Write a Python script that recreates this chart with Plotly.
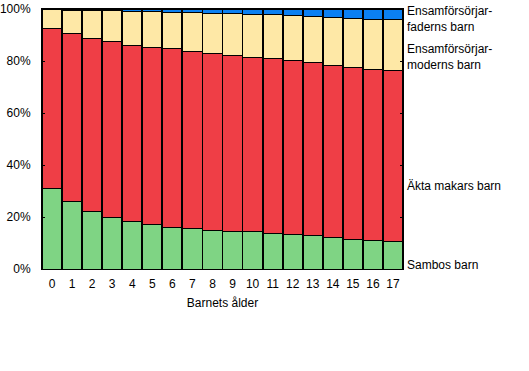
import plotly.graph_objects as go

ages = [str(i) for i in range(18)]

sambos = [31.0, 26.0, 22.1, 20.0, 18.4, 17.3, 16.1, 15.7, 14.9, 14.6, 14.4, 13.8, 13.3, 12.9, 12.3, 11.4, 11.0, 10.7]
akta = [61.4, 64.5, 66.5, 67.4, 67.5, 67.8, 68.6, 68.0, 68.1, 67.5, 67.0, 67.1, 66.9, 66.6, 66.0, 66.0, 65.8, 65.7]
moder = [7.4, 9.1, 11.0, 12.0, 13.2, 14.0, 14.1, 15.0, 15.4, 16.2, 16.6, 17.1, 17.4, 17.8, 18.6, 19.1, 19.3, 19.7]
fader = [0.2, 0.4, 0.4, 0.6, 0.9, 0.9, 1.2, 1.3, 1.6, 1.7, 2.0, 2.0, 2.4, 2.7, 3.1, 3.5, 3.9, 3.9]

series = [
    ("Sambos barn", sambos, "#7fd484"),
    ("Äkta makars barn", akta, "#ef3e46"),
    ("Ensamförsörjar-moderns barn", moder, "#fee8a6"),
    ("Ensamförsörjar-faderns barn", fader, "#0b80f2"),
]

fig = go.Figure()
for name, vals, col in series:
    fig.add_trace(go.Bar(
        x=ages, y=vals, name=name,
        marker=dict(color=col, line=dict(color="black", width=1)),
    ))

font = dict(family="Liberation Sans, Arial, sans-serif", size=12, color="black")

labels = [
    ("Ensamförsörjar-<br>faderns barn", 0.960),
    ("Ensamförsörjar-<br>moderns barn", 0.817),
    ("Äkta makars barn", 0.319),
    ("Sambos barn", 0.015),
]
for txt, yy in labels:
    fig.add_annotation(
        text=txt, xref="paper", yref="paper", x=1, y=yy,
        xanchor="left", yanchor="middle", align="left",
        showarrow=False, xshift=2, font=font,
    )

fig.update_layout(
    barmode="stack",
    bargap=0.04,
    width=529, height=371,
    margin=dict(l=42, r=126, t=9, b=102, pad=0, autoexpand=False),
    paper_bgcolor="white", plot_bgcolor="white",
    showlegend=False,
    font=font,
    xaxis=dict(
        title=dict(text="Barnets ålder", font=font, standoff=8),
        showline=True, linecolor="black", linewidth=1, mirror=True,
        ticks="", tickfont=font, showgrid=False, automargin=False,
        range=[-0.5, 17.5], ticklabelstandoff=4,
    ),
    yaxis=dict(
        range=[0, 100], tickvals=[0, 20, 40, 60, 80, 100],
        ticktext=["0%", "20%", "40%", "60%", "80%", "100%"],
        showline=True, linecolor="black", linewidth=1, mirror="ticks",
        ticks="inside", ticklen=3, tickcolor="black",
        showgrid=True, gridcolor="black", gridwidth=1,
        tickfont=font, zeroline=False, automargin=False,
        ticklabelstandoff=8,
    ),
)

fig.write_html(
    "out.html",
    config={"displayModeBar": False, "staticPlot": True},
    post_script="document.body.style.margin='0';",
)
